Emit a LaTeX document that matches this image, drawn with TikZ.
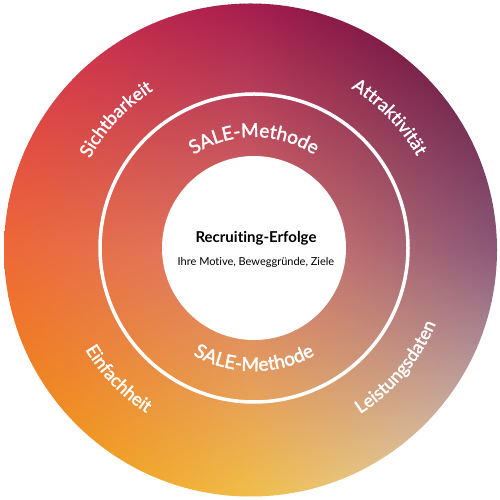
\documentclass[tikz,border=0pt]{standalone}
\usepackage{fontspec}
\setmainfont{Lato}[Ligatures=NoCommon]
\newfontface\myMedFace{Lato}[FakeBold=1.8,Ligatures=NoCommon]
\usetikzlibrary{decorations.text}
% colour grid: columns L (x=0), M (x=250), R (x=500); rows a..e (image y = 0,125,250,375,500)
\definecolor{La}{HTML}{DA2C4A}\definecolor{Ma}{HTML}{A41C4E}\definecolor{Ra}{HTML}{520634}
\definecolor{Lb}{HTML}{E43E48}\definecolor{Mb}{HTML}{B03056}\definecolor{Rb}{HTML}{5E1242}
\definecolor{Lc}{HTML}{EE6836}\definecolor{Mc}{HTML}{DA7A6C}\definecolor{Rc}{HTML}{8A5878}
\definecolor{Ld}{HTML}{F2841C}\definecolor{Md}{HTML}{EAAA66}\definecolor{Rd}{HTML}{AE96A2}
\definecolor{Le}{HTML}{F49400}\definecolor{Me}{HTML}{F0BE48}\definecolor{Re}{HTML}{E2DCCA}
\newcommand\myArcFont{\myMedFace\fontsize{19}{21}\selectfont}
\newcommand\myOuterFont{\myMedFace\fontsize{18}{20}\selectfont}
\tikzset{
  arclabel/.style={decorate, decoration={text along path, text align=center, text color=white, text={#1}}},
  ringline/.style={draw=white, line width=3.5pt},
  centerdisk/.style={fill=white},
}
\begin{document}
\begin{tikzpicture}[x=1pt,y=1pt]
\useasboundingbox (0,0) rectangle (500,500);
\coordinate (O) at (250.5,250);
\coordinate (C) at (254,252);
\begin{scope}
  \clip (O) circle[radius=246.5];
  \foreach \x in {0,4,...,496}{
    \pgfmathsetmacro{\xm}{\x+2}
    \ifdim\xm pt<250pt
      \pgfmathtruncatemacro{\p}{(250-\xm)/2.5}
      \def\A{L}\def\B{M}
    \else
      \pgfmathtruncatemacro{\p}{(500-\xm)/2.5}
      \def\A{M}\def\B{R}
    \fi
    \shade[top color=\A a!\p!\B a, middle color=\A b!\p!\B b, bottom color=\A c!\p!\B c]
      (\x,249.5) rectangle (\x+4.6,500);
    \shade[top color=\A c!\p!\B c, middle color=\A d!\p!\B d, bottom color=\A e!\p!\B e]
      (\x,0) rectangle (\x+4.6,250);
  }
\end{scope}
\draw[ringline] (C) circle[radius=154];
\fill[centerdisk] (C) circle[radius=92];
% inner arc labels
\path[arclabel={|\myArcFont|SALE-Methode}] ([shift={(160:111)}]C) arc[start angle=160, end angle=20, radius=111];
\path[arclabel={|\myArcFont|SALE-Methode}] ([shift={(200:123)}]C) arc[start angle=200, end angle=340, radius=123];
% outer arc labels
\path[arclabel={|\myOuterFont|Sichtbarkeit}] ([shift={(177:187)}]C) arc[start angle=177, end angle=97, radius=187];
\path[arclabel={|\myOuterFont|Attraktivität}] ([shift={(84:187)}]C) arc[start angle=84, end angle=4, radius=187];
\path[arclabel={|\myOuterFont|Einfachheit}] ([shift={(184:197)}]C) arc[start angle=184, end angle=264, radius=197];
\path[arclabel={|\myOuterFont|Leistungsdaten}] ([shift={(-80:197)}]C) arc[start angle=-80, end angle=0, radius=197];
% centre text
\node[font=\fontsize{15}{17}\selectfont\bfseries] (title) at (256,262) {Recruiting-Erfolge};
\node[font=\fontsize{11}{13}\selectfont] (sub) at (256,238) {Ihre Motive, Beweggründe, Ziele};
\end{tikzpicture}
\end{document}
